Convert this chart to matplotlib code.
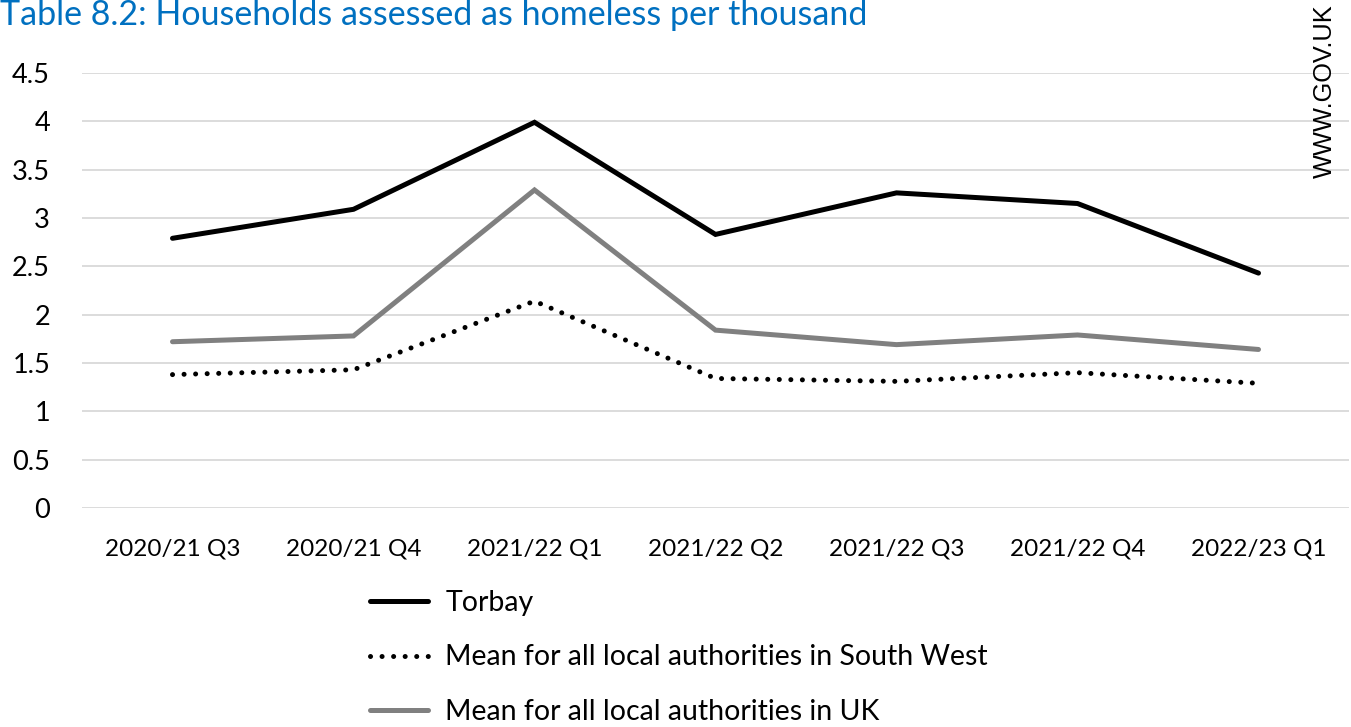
import matplotlib
matplotlib.use("Agg")
import matplotlib.pyplot as plt
from matplotlib.lines import Line2D

categories = ["2020/21 Q3", "2020/21 Q4", "2021/22 Q1", "2021/22 Q2",
              "2021/22 Q3", "2021/22 Q4", "2022/23 Q1"]
torbay = [2.79, 3.09, 3.99, 2.83, 3.26, 3.15, 2.43]
south_west = [1.38, 1.43, 2.14, 1.34, 1.31, 1.40, 1.29]
uk = [1.72, 1.78, 3.29, 1.84, 1.69, 1.79, 1.64]
y_ticks = [0, 0.5, 1, 1.5, 2, 2.5, 3, 3.5, 4, 4.5]
y_tick_labels = ["0", "0.5", "1", "1.5", "2", "2.5", "3", "3.5", "4", "4.5"]

plt.rcParams['font.family'] = ['Lato', 'DejaVu Sans']

W, H = 1351, 727
LW = 3.6
DOTS = (0, (0.01, 2.3))
fig = plt.figure(figsize=(W / 100, H / 100), dpi=100)
ax = fig.add_axes([82 / W, 1 - 508 / H, (1349 - 82) / W, (508 - 73) / H])

x = list(range(len(categories)))
ax.plot(x, torbay, color="black", lw=LW, solid_capstyle="round",
        solid_joinstyle="miter", zorder=3)
ax.plot(x, uk, color="#808080", lw=LW, solid_capstyle="round",
        solid_joinstyle="miter", zorder=3)
ax.plot(x, south_west, color="black", lw=LW, linestyle=DOTS,
        dash_capstyle="round", zorder=4)

ax.set_xlim(-0.5, len(categories) - 0.5)
ax.set_ylim(0, 4.5)
ax.set_yticks(y_ticks)
ax.set_yticklabels(y_tick_labels, fontsize=19.5)
ax.set_xticks(x)
ax.set_xticklabels(categories, fontsize=17.5)
ax.tick_params(axis="both", length=0)
ax.tick_params(axis="y", pad=23)
ax.tick_params(axis="x", pad=22)
ax.yaxis.grid(True, color="#d9d9d9", lw=1.3)
ax.set_axisbelow(True)
for s in ax.spines.values():
    s.set_visible(False)

fig.text(0, 1 - 25 / H, "Table 8.2: Households assessed as homeless per thousand",
         color="#0070C0", fontsize=24.5, ha="left", va="baseline")
fig.text(1325 / W, 1 - 4 / H, "WWW.GOV.UK", family="Liberation Sans",
         fontsize=18.3, rotation=90, ha="center", va="top")

handles = [
    Line2D([], [], color="black", lw=LW, solid_capstyle="round"),
    Line2D([], [], color="black", lw=LW, linestyle=DOTS,
           dash_capstyle="round"),
    Line2D([], [], color="#808080", lw=LW, solid_capstyle="round"),
]
labels = ["Torbay", "Mean for all local authorities in South West",
          "Mean for all local authorities in UK"]
fig.legend(handles, labels, loc="upper left", bbox_to_anchor=(370 / W, 1 - 590 / H),
           frameon=False, fontsize=20.5, handlelength=2.05, handletextpad=0.6,
           labelspacing=1.0, borderpad=0, borderaxespad=0)

fig.savefig("out.png", dpi=100)
